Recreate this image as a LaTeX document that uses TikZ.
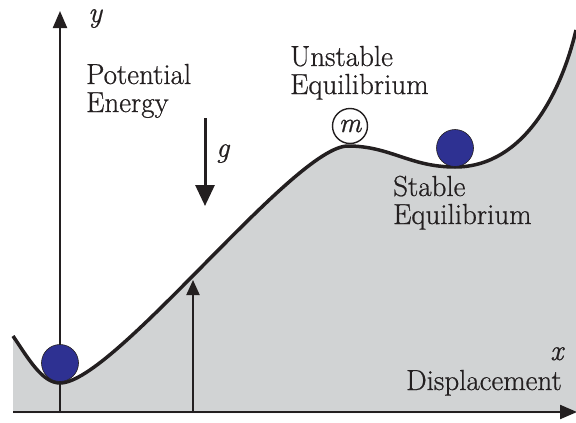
\documentclass[tikz,border=0pt]{standalone}
\usepackage{fontspec}
\setmainfont{Latin Modern Roman}[FakeBold=0.7]
\usetikzlibrary{arrows.meta}
\definecolor{fillgray}{HTML}{D1D3D4}
\definecolor{ballblue}{HTML}{2E3192}
\definecolor{ink}{HTML}{231F20}
\begin{document}
\begin{tikzpicture}[x=1pt,y=-1pt,
  lbl/.style={font=\fontsize{29}{28}\selectfont, text=ink, inner sep=0pt, anchor=base west},
  ilbl/.style={lbl, font=\fontsize{29}{28}\selectfont\itshape},
  axis/.style={draw=ink, line width=2.2pt, -{Triangle[length=17pt,width=14pt]}},
  ball/.style={circle, fill=ballblue, draw=ink, line width=0.6pt, minimum size=37pt, inner sep=0pt},
  mass/.style={circle, fill=white, draw=ink, line width=1.4pt, minimum size=35pt, inner sep=0pt, font=\fontsize{28}{28}\selectfont\itshape, text=ink}]
\useasboundingbox (0,0) rectangle (576,423);
% filled potential region
\fill[fillgray] (13,336) .. controls (28,358) and (42,383) .. (60,383)
  .. controls (114,383) and (294,146) .. (348,146)
  .. controls (390,146) and (410,167) .. (455,167)
  .. controls (525,167) and (562,90) .. (576,30)
  -- (576,413) -- (13,413) -- cycle;
% axes
\coordinate (yb) at (60,412);
\coordinate (yt) at (60,11);
\coordinate (xl) at (13,412);
\coordinate (xr) at (577,412);
\draw[axis] (yb) -- (yt);
\draw[axis] (xl) -- (xr);
% vertical arrow to curve
\coordinate (ab) at (193,412);
\coordinate (at) at (193,280);
\draw[draw=ink, line width=2pt, -{Triangle[length=15pt,width=13pt]}] (ab) -- (at);
% gravity arrow
\coordinate (gt) at (205,118);
\coordinate (gb) at (205,206);
\draw[draw=ink, line width=3pt, -{Triangle[length=21pt,width=19pt]}] (gt) -- (gb);
% curve
\draw[ink, line width=3.5pt] (13,336) .. controls (28,358) and (42,383) .. (60,383)
  .. controls (114,383) and (294,146) .. (348,146)
  .. controls (390,146) and (410,167) .. (455,167)
  .. controls (525,167) and (562,90) .. (576,30);
% balls
\node[ball] (b1) at (60,363) {};
\node[ball] (b2) at (455,148) {};
\node[mass] (m) at (350,126) {m};
% labels
\node[ilbl] (ylab) at (88,22) {y};
\node[lbl] (pe1) at (86,84) {Potential};
\node[lbl] (pe2) at (86,112) {Energy};
\node[lbl] (ue1) at (290,66) {Unstable};
\node[lbl] (ue2) at (290,94) {Equilibrium};
\node[ilbl] (glab) at (216,157) {g};
\node[lbl] (se1) at (393,196) {Stable};
\node[lbl] (se2) at (393,224) {Equilibrium};
\node[ilbl] (xlab) at (550,360) {x};
\node[lbl] (dis) at (406,390) {Displacement};
\end{tikzpicture}
\end{document}
